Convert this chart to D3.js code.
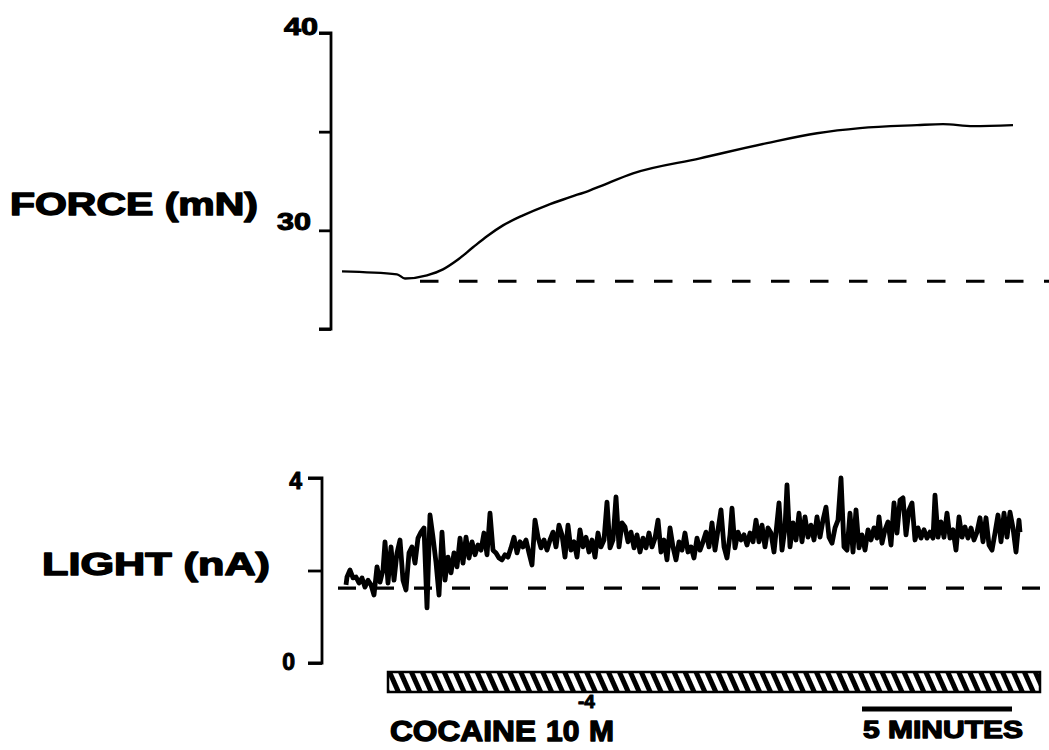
<!DOCTYPE html>
<html>
<head>
<meta charset="utf-8">
<script src="https://cdn.jsdelivr.net/npm/d3@7"></script>
<style>
  body { margin: 0; background: #fff; }
  svg { display: block; }
  text { font-family: "Liberation Sans", Arial, sans-serif; font-weight: bold; fill: #000; stroke: #000; stroke-linejoin: round; }
</style>
</head>
<body>
<svg id="chart" width="1049" height="750"></svg>
<script>
// time in seconds, 0 = cocaine added
var forceTime = [-92, 18, 34, 78, 110, 138, 170, 198, 230, 270, 318, 364, 404, 424, 490, 624, 758, 858, 944, 1058, 1110, 1170, 1250];
var forceVals = [27.92, 27.77, 27.56, 27.72, 28.02, 28.48, 29.14, 29.70, 30.25, 30.76, 31.27, 31.68, 32.03, 32.23, 32.89, 33.65, 34.42, 34.92, 35.18, 35.33, 35.38, 35.28, 35.33];
var forceTicks = [25, 30, 35, 40];
var forceLabels = {30: "30", 40: "40"};
var forceBaseline = 27.42;

// light trace [seconds, nA]
var lightTrace = [
  [-84, 1.69], [-82, 1.86], [-76, 2.01], [-70, 1.84], [-64, 1.86], [-58, 1.73], [-52, 1.84], [-46, 1.64],
  [-40, 1.79], [-34, 1.69], [-28, 1.47], [-22, 2.08], [-16, 1.75], [-10, 2.01], [-6, 2.62], [0, 1.73],
  [6, 2.51], [12, 1.79], [18, 2.38], [24, 2.66], [30, 1.79], [36, 1.58], [42, 2.38], [48, 2.51],
  [54, 2.16], [60, 2.70], [66, 2.83], [72, 2.92], [78, 1.19], [84, 3.20], [90, 2.72], [96, 2.18],
  [102, 1.47], [108, 2.83], [114, 1.79], [120, 2.29], [126, 1.95], [132, 2.38], [138, 2.08], [144, 2.70],
  [150, 2.16], [156, 2.72], [162, 2.27], [168, 2.62], [174, 2.34], [180, 2.55], [186, 2.44], [192, 2.81],
  [198, 2.34], [204, 3.24], [210, 2.44], [216, 2.38], [222, 2.27], [228, 2.23], [234, 2.34], [240, 2.29],
  [246, 2.49], [252, 2.72], [258, 2.38], [264, 2.62], [270, 2.51], [276, 2.66], [282, 2.38], [288, 2.12],
  [294, 3.09], [300, 2.72], [306, 2.49], [312, 2.66], [318, 2.44], [324, 2.66], [330, 2.83], [336, 2.51],
  [342, 2.98], [348, 2.77], [354, 2.29], [360, 2.98], [366, 2.44], [372, 2.62], [378, 2.29], [384, 2.88],
  [390, 2.51], [396, 2.72], [402, 2.40], [408, 2.66], [414, 2.29], [420, 2.81], [426, 2.51], [432, 2.66],
  [438, 3.48], [444, 2.49], [450, 2.66], [456, 3.59], [462, 2.51], [468, 3.03], [474, 2.94], [480, 2.62],
  [486, 2.83], [492, 2.49], [498, 2.77], [504, 2.40], [510, 2.70], [516, 2.49], [522, 2.81], [528, 2.51],
  [534, 2.70], [540, 3.09], [546, 2.40], [552, 2.66], [558, 2.23], [564, 2.92], [570, 2.51], [576, 2.23],
  [582, 2.62], [588, 2.44], [594, 2.81], [600, 2.40], [606, 2.51], [612, 2.27], [618, 2.70], [624, 2.44],
  [630, 2.62], [636, 2.83], [642, 2.51], [648, 3.03], [654, 2.44], [660, 2.88], [666, 3.31], [672, 2.51],
  [678, 2.27], [684, 2.77], [688, 3.35], [694, 2.49], [700, 2.83], [706, 2.66], [712, 2.77], [718, 2.55],
  [724, 2.81], [730, 2.62], [736, 3.09], [742, 2.62], [748, 2.98], [754, 2.51], [760, 2.92], [766, 2.81],
  [772, 2.40], [778, 3.03], [782, 3.46], [788, 2.44], [794, 2.92], [798, 3.85], [804, 2.51], [810, 3.03],
  [816, 2.66], [822, 3.24], [828, 2.62], [834, 3.16], [840, 2.72], [846, 2.98], [852, 2.66], [858, 3.16],
  [864, 2.72], [870, 3.09], [876, 3.37], [882, 2.72], [888, 2.59], [894, 2.92], [900, 3.09], [906, 4.00],
  [912, 2.51], [918, 2.44], [924, 3.24], [930, 2.40], [936, 3.31], [942, 2.49], [948, 2.77], [954, 2.44],
  [960, 2.88], [966, 2.66], [972, 2.92], [978, 2.70], [982, 3.16], [988, 2.59], [994, 2.88], [1000, 3.05],
  [1006, 2.55], [1012, 3.46], [1018, 2.81], [1024, 3.52], [1030, 3.57], [1036, 2.77], [1042, 3.31], [1048, 3.46],
  [1054, 2.66], [1060, 2.92], [1066, 2.70], [1072, 2.88], [1078, 2.70], [1084, 2.83], [1090, 2.70], [1094, 3.63],
  [1100, 2.72], [1106, 3.05], [1112, 2.72], [1118, 3.24], [1124, 2.70], [1130, 2.88], [1136, 2.44], [1142, 3.16],
  [1148, 2.72], [1154, 2.94], [1160, 2.70], [1166, 2.92], [1172, 2.66], [1178, 2.83], [1184, 3.14], [1190, 2.62],
  [1196, 3.14], [1202, 2.55], [1208, 2.44], [1214, 2.81], [1220, 3.20], [1226, 2.62], [1232, 3.24], [1238, 2.72],
  [1244, 3.26], [1250, 2.92], [1256, 2.40], [1262, 3.09], [1264, 2.83]
];
var lightTicks = [0, 2, 4];
var lightLabels = {0: "0", 4: "4"};
var lightBaseline = 1.62;

var cocaine = [0, 1304];     // seconds
var scaleBar = [948, 1248];  // 5 minutes

var svg = d3.select("#chart");

var x = d3.scaleLinear().domain([-100, 1300]).range([338, 1038]);
var yF = d3.scaleLinear().domain([25, 40]).range([329, 33]);
var yL = d3.scaleLinear().domain([0, 4]).range([663, 478]);

// ---- force panel ----
var fAxis = svg.append("g")
    .attr("transform", "translate(331,0)")
    .call(d3.axisLeft(yF).tickValues(forceTicks).tickSize(12).tickPadding(2)
      .tickFormat(function(d) { return forceLabels[d] || ""; }));
fAxis.select(".domain").attr("d", "M-12," + yF(40) + "H0V" + yF(25) + "H-12");
fAxis.selectAll("line, path").attr("stroke", "#000").attr("stroke-width", 2.8);
fAxis.selectAll("text")
    .attr("font-size", 23).attr("font-weight", "bold")
    .attr("font-family", "Liberation Sans, Arial, sans-serif")
    .attr("stroke", "#000").attr("stroke-width", 1)
    .attr("dy", function(d) { return d == 40 ? "0.05em" : "-0.05em"; })
    .attr("x", function(d) { return d == 40 ? -13 : -20; })
    .attr("textLength", 34).attr("lengthAdjust", "spacingAndGlyphs");

var forceData = forceTime.map(function(t, i) { return [t, forceVals[i]]; });
svg.append("path")
    .datum(forceData)
    .attr("fill", "none")
    .attr("stroke", "#000")
    .attr("stroke-width", 2.4)
    .attr("d", d3.line().curve(d3.curveMonotoneX)
      .x(function(d) { return x(d[0]); })
      .y(function(d) { return yF(d[1]); }));

svg.append("line")
    .attr("x1", x(64)).attr("x2", 1049)
    .attr("y1", yF(forceBaseline)).attr("y2", yF(forceBaseline))
    .attr("stroke", "#000").attr("stroke-width", 3.2)
    .attr("stroke-dasharray", "18.5,20.5");

svg.append("text")
    .attr("x", 10).attr("y", 215)
    .attr("font-size", 31).attr("stroke-width", 1.4)
    .attr("textLength", 248).attr("lengthAdjust", "spacingAndGlyphs")
    .text("FORCE  (mN)");

// ---- light panel ----
var lAxis = svg.append("g")
    .attr("transform", "translate(322,0)")
    .call(d3.axisLeft(yL).tickValues(lightTicks).tickSize(14).tickPadding(6)
      .tickFormat(function(d) { return lightLabels[d] || ""; }));
lAxis.select(".domain").attr("d", "M-14," + yL(4) + "H0V" + yL(0) + "H-14");
lAxis.selectAll("line, path").attr("stroke", "#000").attr("stroke-width", 2.8);
lAxis.selectAll("text")
    .attr("font-size", 23).attr("font-weight", "bold")
    .attr("font-family", "Liberation Sans, Arial, sans-serif")
    .attr("stroke", "#000").attr("stroke-width", 1)
    .attr("x", function(d) { return d == 4 ? -20 : -27; })
    .attr("dy", function(d) { return d == 4 ? "0.45em" : "0.3em"; });

svg.append("line")
    .attr("x1", 338).attr("x2", 1049)
    .attr("y1", yL(lightBaseline)).attr("y2", yL(lightBaseline))
    .attr("stroke", "#000").attr("stroke-width", 3.2)
    .attr("stroke-dasharray", "18,20");

svg.append("path")
    .datum(lightTrace)
    .attr("fill", "none")
    .attr("stroke", "#000")
    .attr("stroke-width", 4.8)
    .attr("stroke-linejoin", "round")
    .attr("d", d3.line()
      .x(function(d) { return x(d[0]); })
      .y(function(d) { return yL(d[1]); }));

svg.append("text")
    .attr("x", 42).attr("y", 575)
    .attr("font-size", 31).attr("stroke-width", 1.4)
    .attr("textLength", 228).attr("lengthAdjust", "spacingAndGlyphs")
    .text("LIGHT  (nA)");

// ---- cocaine bar ----
var defs = svg.append("defs");
var pat = defs.append("pattern")
    .attr("id", "hatch")
    .attr("patternUnits", "userSpaceOnUse")
    .attr("width", 10).attr("height", 10)
    .attr("patternTransform", "rotate(-24)");
pat.append("rect").attr("width", 10).attr("height", 10).attr("fill", "#fff");
pat.append("rect").attr("width", 5).attr("height", 10).attr("fill", "#000");

svg.append("rect")
    .attr("x", x(cocaine[0])).attr("y", 672)
    .attr("width", x(cocaine[1]) - x(cocaine[0])).attr("height", 20)
    .attr("fill", "url(#hatch)")
    .attr("stroke", "#000").attr("stroke-width", 2.5);

svg.append("text")
    .attr("x", x(cocaine[0]) + 2).attr("y", 741)
    .attr("font-size", 30).attr("stroke-width", 1.4)
    .attr("textLength", 146).attr("lengthAdjust", "spacingAndGlyphs")
    .text("COCAINE");
var conc = svg.append("text")
    .attr("y", 741)
    .attr("font-size", 30).attr("stroke-width", 1.4);
conc.append("tspan").attr("x", 546).text("10");
conc.append("tspan").attr("x", 578).attr("dy", -33).attr("font-size", 19).attr("stroke-width", 1).text("-4");
conc.append("tspan").attr("x", 589).attr("dy", 33).text("M");

// ---- 5 minute scale ----
svg.append("line")
    .attr("x1", x(scaleBar[0])).attr("x2", x(scaleBar[1]))
    .attr("y1", 709).attr("y2", 709)
    .attr("stroke", "#000").attr("stroke-width", 5);
svg.append("text")
    .attr("x", 863).attr("y", 738)
    .attr("font-size", 24).attr("stroke-width", 1.3)
    .attr("textLength", 160).attr("lengthAdjust", "spacingAndGlyphs")
    .text("5 MINUTES");
</script>
</body>
</html>
